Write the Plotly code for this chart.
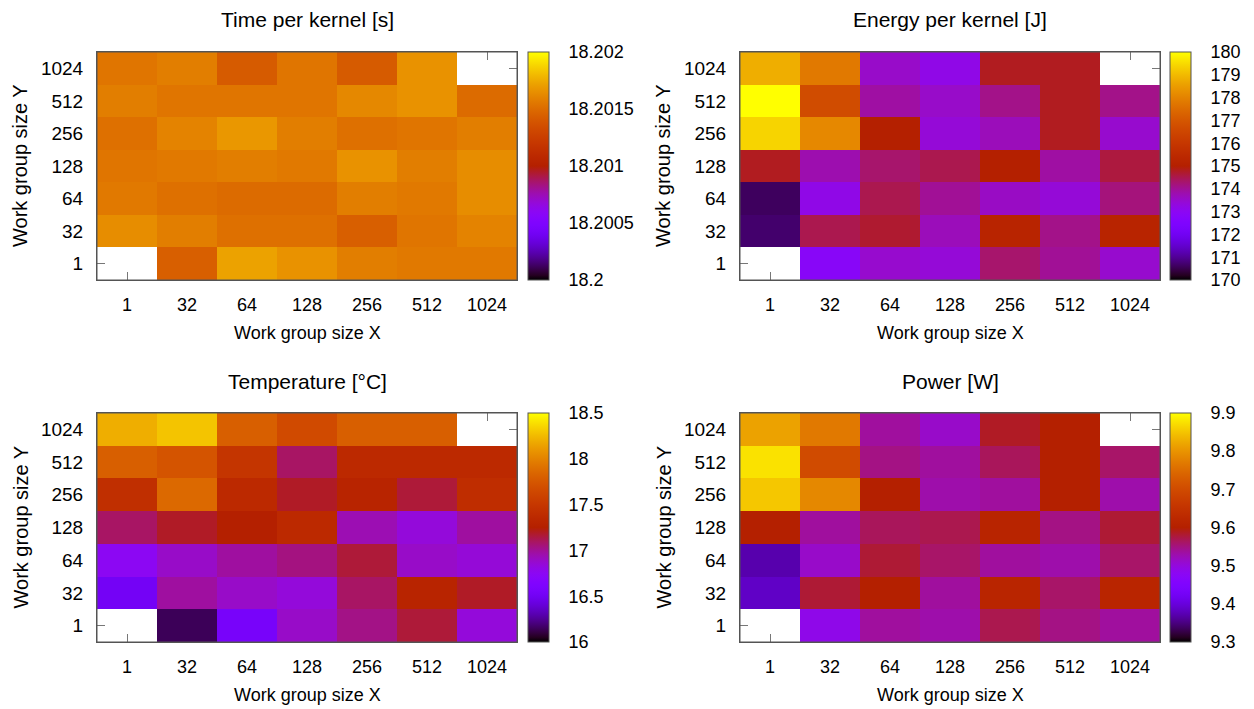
import math
import plotly.graph_objects as go

# ---------------- data ----------------
sizes = ["1", "32", "64", "128", "256", "512", "1024"]  # x and y categories

# rows: Y = 1, 32, 64, 128, 256, 512, 1024 ; columns: X = 1 ... 1024
time_s = [
    [None, 18.20144, 18.20172, 18.20166, 18.20158, 18.20156, 18.20156],
    [18.20164, 18.20158, 18.20152, 18.20152, 18.20144, 18.20154, 18.20160],
    [18.20156, 18.20152, 18.20150, 18.20150, 18.20158, 18.20156, 18.20164],
    [18.20154, 18.20156, 18.20158, 18.20156, 18.20166, 18.20158, 18.20164],
    [18.20152, 18.20160, 18.20168, 18.20158, 18.20152, 18.20154, 18.20158],
    [18.20158, 18.20154, 18.20154, 18.20154, 18.20162, 18.20166, 18.20150],
    [18.20154, 18.20158, 18.20142, 18.20154, 18.20142, 18.20166, None],
]
energy_j = [
    [None, 172.85, 173.5, 173.4, 174.3, 174.0, 173.5],
    [170.7, 174.5, 174.7, 173.7, 175.2, 174.1, 175.2],
    [170.6, 173.2, 174.5, 174.0, 173.6, 173.4, 174.2],
    [174.8, 173.8, 174.3, 174.5, 175.0, 173.9, 174.6],
    [179.4, 178.1, 175.0, 173.4, 173.7, 174.8, 173.5],
    [180.0, 176.7, 173.9, 173.55, 174.1, 174.8, 174.1],
    [178.8, 177.8, 173.55, 173.2, 174.8, 174.8, None],
]
temperature_c = [
    [None, 16.14, 16.55, 16.89, 17.03, 17.16, 16.84],
    [16.52, 16.98, 16.89, 16.84, 17.09, 17.30, 17.19],
    [16.75, 16.89, 16.98, 17.04, 17.16, 16.89, 16.85],
    [17.09, 17.19, 17.25, 17.36, 16.94, 16.84, 16.98],
    [17.42, 17.86, 17.36, 17.19, 17.30, 17.16, 17.40],
    [17.80, 17.73, 17.48, 17.09, 17.36, 17.36, 17.36],
    [18.20, 18.29, 17.80, 17.66, 17.80, 17.80, None],
]
power_w = [
    [None, 9.49, 9.536, 9.53, 9.57, 9.548, 9.536],
    [9.385, 9.58, 9.60, 9.536, 9.615, 9.56, 9.615],
    [9.371, 9.513, 9.58, 9.56, 9.536, 9.53, 9.56],
    [9.60, 9.536, 9.565, 9.57, 9.612, 9.548, 9.58],
    [9.852, 9.786, 9.60, 9.53, 9.536, 9.60, 9.53],
    [9.876, 9.70, 9.548, 9.536, 9.565, 9.60, 9.56],
    [9.816, 9.768, 9.536, 9.513, 9.586, 9.60, None],
]

titles = ["Time per kernel [s]", "Energy per kernel [J]", "Temperature [°C]", "Power [W]"]
cb_ticks = [
    [18.2, 18.2005, 18.201, 18.2015, 18.202],
    [170, 171, 172, 173, 174, 175, 176, 177, 178, 179, 180],
    [16, 16.5, 17, 17.5, 18, 18.5],
    [9.3, 9.4, 9.5, 9.6, 9.7, 9.8, 9.9],
]
cb_labels = [
    ["18.2", "18.2005", "18.201", "18.2015", "18.202"],
    ["170", "171", "172", "173", "174", "175", "176", "177", "178", "179", "180"],
    ["16", "16.5", "17", "17.5", "18", "18.5"],
    ["9.3", "9.4", "9.5", "9.6", "9.7", "9.8", "9.9"],
]
datasets = [time_s, energy_j, temperature_c, power_w]

# ---------------- style ----------------
W, H = 1254, 709
FONT = "Liberation Sans, Arial, Helvetica, sans-serif"


def gnuplot_color(t):
    r = math.sqrt(t)
    g = t ** 3
    b = max(0.0, math.sin(2 * math.pi * t))
    return "rgb(%d,%d,%d)" % (round(r * 255), round(g * 255), round(b * 255))


colorscale = [[i / 50, gnuplot_color(i / 50)] for i in range(51)]

# pixel boxes of the four plot areas (left, right, top, bottom)
boxes = [
    (97, 517, 52, 280),
    (740, 1160, 52, 280),
    (97, 517, 413, 642),
    (740, 1160, 413, 642),
]
cb_left = [528, 1170, 528, 1170]

fig = go.Figure()
annotations = []
shapes = []

for i, (z, box) in enumerate(zip(datasets, boxes)):
    l, r, t, b = box
    n = i + 1
    xa = "x" if n == 1 else "x%d" % n
    ya = "y" if n == 1 else "y%d" % n
    ticks = cb_ticks[i]
    zmin, zmax = ticks[0], ticks[-1]
    fig.add_trace(go.Heatmap(
        z=z, x=sizes, y=sizes, xaxis=xa, yaxis=ya,
        zmin=zmin, zmax=zmax, colorscale=colorscale,
        hoverongaps=False,
        colorbar=dict(
            x=cb_left[i] / W, xanchor="left", xpad=0, ypad=0,
            y=1 - (t + b) / 2 / H, yanchor="middle",
            len=(b - t) / H, lenmode="fraction",
            thickness=21, thicknessmode="pixels",
            outlinewidth=1, outlinecolor="#555555",
            tickmode="array", tickvals=ticks, ticktext=cb_labels[i],
            ticks="outside", ticklen=16, tickcolor="rgba(0,0,0,0)",
            tickfont=dict(family=FONT, size=18, color="black"),
        ),
    ))
    axkey_x = "xaxis" if n == 1 else "xaxis%d" % n
    axkey_y = "yaxis" if n == 1 else "yaxis%d" % n
    fig.layout[axkey_x] = dict(
        domain=[l / W, r / W], anchor=ya, type="category",
        categoryorder="array", categoryarray=sizes,
        ticks="inside", ticklen=8, tickcolor="#777777", tickwidth=1,
        mirror="ticks", showline=True, linecolor="#555555", linewidth=1,
        showgrid=False, zeroline=False, layer="below traces",
        tickfont=dict(family=FONT, size=18, color="black"),
        ticklabelstandoff=8, fixedrange=True,
    )
    fig.layout[axkey_y] = dict(
        domain=[1 - b / H, 1 - t / H], anchor=xa, type="category",
        categoryorder="array", categoryarray=sizes,
        ticks="inside", ticklen=8, tickcolor="#777777", tickwidth=1,
        mirror="ticks", showline=True, linecolor="#555555", linewidth=1,
        showgrid=False, zeroline=False, layer="below traces",
        tickfont=dict(family=FONT, size=19, color="black"),
        ticklabelstandoff=9, fixedrange=True,
    )
    # frame on top of the cells
    shapes.append(dict(type="rect", xref="%s domain" % xa, yref="%s domain" % ya,
                       x0=0, x1=1, y0=0, y1=1, line=dict(color="#555555", width=1),
                       layer="above"))
    # colorbar inner tick marks (derived from the tick values)
    cbl = cb_left[i]
    for v in ticks[1:-1]:
        yy = 1 - (b - (v - zmin) / (zmax - zmin) * (b - t)) / H
        for x0, x1 in ((cbl, cbl + 7), (cbl + 14, cbl + 21)):
            shapes.append(dict(type="line", xref="paper", yref="paper",
                               x0=x0 / W, x1=x1 / W, y0=yy, y1=yy,
                               line=dict(color="#222222", width=1), layer="above"))
    # titles
    annotations.append(dict(text=titles[i], xref="paper", yref="paper",
                            x=(l + r) / 2 / W, y=1 - (t - 32) / H,
                            xanchor="center", yanchor="middle", showarrow=False,
                            font=dict(family=FONT, size=21, color="black")))
    annotations.append(dict(text="Work group size X", xref="paper", yref="paper",
                            x=(l + r) / 2 / W, y=1 - (b + 53) / H,
                            xanchor="center", yanchor="middle", showarrow=False,
                            font=dict(family=FONT, size=18, color="black")))
    annotations.append(dict(text="Work group size Y", xref="paper", yref="paper",
                            x=(l - 77) / W, y=1 - (t + b) / 2 / H,
                            xanchor="center", yanchor="middle", showarrow=False,
                            textangle=-90,
                            font=dict(family=FONT, size=20, color="black")))

fig.update_layout(
    width=W, height=H,
    margin=dict(l=0, r=0, t=0, b=0),
    paper_bgcolor="white", plot_bgcolor="white",
    annotations=annotations, shapes=shapes,
    showlegend=False,
    font=dict(family=FONT, color="black"),
)

fig.write_html("out.html", config={"displayModeBar": False})

# remove the browser's default page margin so the figure sits at (0, 0)
with open("out.html", encoding="utf-8") as f:
    html = f.read()
html = html.replace("<head>", "<head><style>html,body{margin:0;padding:0;}</style>", 1)
with open("out.html", "w", encoding="utf-8") as f:
    f.write(html)
